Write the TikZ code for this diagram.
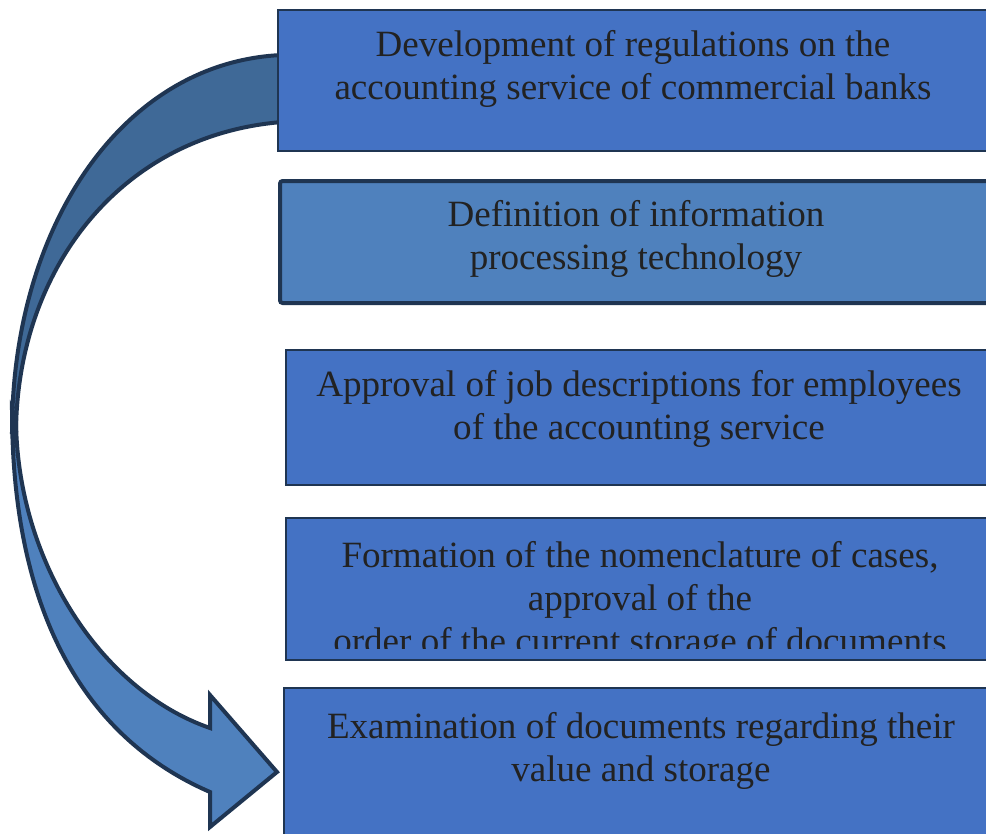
\documentclass[tikz,border=0pt]{standalone}
\usepackage{fontspec}
\setmainfont{Liberation Serif}

\begin{document}
\begin{tikzpicture}[y=0.75pt, x=0.75pt, yscale=-1, inner sep=0pt, outer sep=0pt]
\definecolor{boxblue}{HTML}{4472C4}
\definecolor{midblue}{HTML}{4F81BD}
\definecolor{backblue}{HTML}{3F6997}
\definecolor{edgeblue}{HTML}{1F3552}
\definecolor{ink}{HTML}{222222}
\tikzset{
  stagebox/.style={draw=edgeblue, fill=boxblue, line width=1.5pt},
  stagetext/.style={align=center, text=ink, font=\fontsize{27.8}{32.25}\selectfont}
}
\useasboundingbox (0,0) rectangle (986,833);
\clip (0,0) rectangle (986,833);

% curved arrow, lower part then upper part
\path[draw=edgeblue, fill=midblue, line width=3pt, line join=miter]
  (12,410) .. controls (12,620) and (90,740) .. (210,792) -- (210,827) --
  (277,772) -- (210,695) -- (210,728) .. controls (100,690) and (17,560) ..
  (16,420) -- cycle;
\path[draw=edgeblue, fill=backblue, line width=3pt, line join=miter]
  (282,55) .. controls (120,62) and (12,230) .. (12,432) --
  (16,432) .. controls (17,270) and (120,135) .. (282,122) -- cycle;

\node [stagebox, minimum width=541.5pt, minimum height=105.75pt] (b1) at (639,80.5) {};
\node [stagetext] (t1) at (633,69) {Development of regulations on the\\accounting service of commercial banks};

\node [stagebox, fill=midblue, line width=3pt, rounded corners=2pt, minimum width=540pt, minimum height=91.5pt] (b2) at (640,242) {};
\node [stagetext] (t2) at (636,239) {Definition of information\\processing technology};

\node [stagebox, minimum width=535.5pt, minimum height=101.25pt] (b3) at (643,417.5) {};
\node [stagetext] (t3) at (639,409) {Approval of job descriptions for employees\\of the accounting service};

\node [stagebox, minimum width=535.5pt, minimum height=106.5pt] (b4) at (643,589) {};
\begin{scope}
\clip (286,518) rectangle (1000,648);
\node [stagetext] (t4) at (640,601) {Formation of the nomenclature of cases,\\approval of the\\order of the current storage of documents};
\end{scope}

\node [stagebox, minimum width=537pt, minimum height=129pt] (b5) at (642,774) {};
\node [stagetext] (t5) at (641,751) {Examination of documents regarding their\\value and storage};
\end{tikzpicture}
\end{document}
